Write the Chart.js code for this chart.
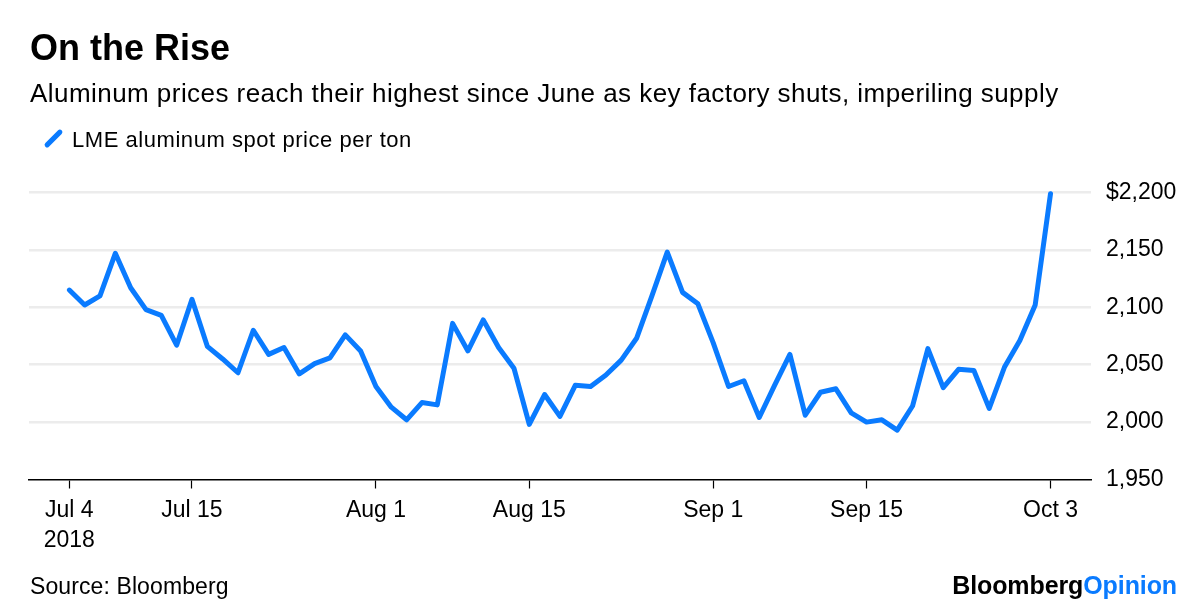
<!DOCTYPE html>
<html>
<head>
<meta charset="utf-8">
<script src="https://cdn.jsdelivr.net/npm/chart.js@4/dist/chart.umd.min.js"></script>
<style>
  html, body { margin: 0; padding: 0; background: #fff; }
  #wrap { position: relative; width: 1200px; height: 612px; overflow: hidden; font-family: 'Liberation Sans', Arial, sans-serif; color: #000; }
  #chart { position: absolute; left: 0; top: 0; }
  .t { position: absolute; white-space: nowrap; }
  #title { left: 30px; top: 30px; font-size: 36px; line-height: 36px; font-weight: bold; letter-spacing: 0px; }
  #subtitle { left: 30px; top: 80px; font-size: 26px; line-height: 26px; letter-spacing: 0.45px; }
  #legend { left: 72px; top: 129px; font-size: 22px; line-height: 22px; letter-spacing: 0.55px; }
  #legicon { position: absolute; left: 42px; top: 136px; width: 23px; height: 5px; background: #0a7bff; border-radius: 2.5px; transform: rotate(-45deg); }
  #source { left: 30px; top: 575px; font-size: 23px; line-height: 23px; letter-spacing: 0.1px; }
  #brand { right: 23px; top: 573px; font-size: 25px; line-height: 25px; font-weight: bold; letter-spacing: -0.1px; }
  #brand span { color: #0a7bff; }
</style>
</head>
<body>
<div id="wrap">
  <canvas id="chart" width="1200" height="612"></canvas>
  <div class="t" id="title">On the Rise</div>
  <div class="t" id="subtitle">Aluminum prices reach their highest since June as key factory shuts, imperiling supply</div>
  <div id="legicon"></div>
  <div class="t" id="legend">LME aluminum spot price per ton</div>
  <div class="t" id="source">Source: Bloomberg</div>
  <div class="t" id="brand">Bloomberg<span>Opinion</span></div>
</div>
<script>
// Trading days (LME), Jul 4 – Oct 3, 2018
const dates = [
  '2018-07-04','2018-07-05','2018-07-06','2018-07-09','2018-07-10','2018-07-11','2018-07-12','2018-07-13',
  '2018-07-16','2018-07-17','2018-07-18','2018-07-19','2018-07-20','2018-07-23','2018-07-24','2018-07-25',
  '2018-07-26','2018-07-27','2018-07-30','2018-07-31',
  '2018-08-01','2018-08-02','2018-08-03','2018-08-06','2018-08-07','2018-08-08','2018-08-09','2018-08-10',
  '2018-08-13','2018-08-14','2018-08-15','2018-08-16','2018-08-17','2018-08-20','2018-08-21','2018-08-22',
  '2018-08-23','2018-08-24','2018-08-28','2018-08-29','2018-08-30','2018-08-31',
  '2018-09-03','2018-09-04','2018-09-05','2018-09-06','2018-09-07','2018-09-10','2018-09-11','2018-09-12',
  '2018-09-13','2018-09-14','2018-09-17','2018-09-18','2018-09-19','2018-09-20','2018-09-21','2018-09-24',
  '2018-09-25','2018-09-26','2018-09-27','2018-09-28',
  '2018-10-01','2018-10-02','2018-10-03'
];

// LME aluminum spot price per ton (USD)
const prices = [
  2115, 2102, 2110, 2147, 2117, 2098, 2093, 2067,
  2107, 2066, 2055, 2043, 2080, 2059, 2065, 2042,
  2051, 2056, 2076, 2062,
  2031, 2013, 2002, 2017, 2015, 2086, 2062, 2089,
  2065, 2047, 1998, 2024, 2005, 2032, 2031, 2041,
  2054, 2073, 2110, 2148, 2113, 2103,
  2069, 2031, 2036, 2004, 2032, 2059, 2006, 2026,
  2029, 2008, 2000, 2002, 1993, 2014, 2064, 2030,
  2046, 2045, 2012, 2048,
  2071, 2102, 2199
];

// X-axis ticks: the trading day where each label sits, and its text
const tickDates  = ['2018-07-04','2018-07-16','2018-08-01','2018-08-15','2018-09-03','2018-09-17','2018-10-03'];
const tickLabels = [['Jul 4','2018'], 'Jul 15', 'Aug 1', 'Aug 15', 'Sep 1', 'Sep 15', 'Oct 3'];

// Y-axis ticks
const yTicks = [1950, 2000, 2050, 2100, 2150, 2200];

const BLUE = '#0a7bff';
const FONT = "'Liberation Sans', Arial, sans-serif";
const tickIdx = tickDates.map(d => dates.indexOf(d));

new Chart(document.getElementById('chart'), {
  type: 'line',
  data: {
    datasets: [{
      label: 'LME aluminum spot price per ton',
      data: prices.map((v, i) => ({ x: i, y: v })),
      borderColor: BLUE,
      borderWidth: 5,
      borderCapStyle: 'round',
      borderJoinStyle: 'round',
      pointRadius: 0,
      tension: 0,
      fill: false,
      clip: false
    }]
  },
  options: {
    responsive: false,
    animation: false,
    layout: { padding: { left: 29, top: 192.5, right: 0, bottom: 0 } },
    plugins: { legend: { display: false }, tooltip: { enabled: false }, title: { display: false } },
    scales: {
      x: {
        type: 'linear',
        min: -2.63,
        max: 66.64,
        afterFit: s => { s.height = 612 - 479.5; },
        afterBuildTicks: s => { s.ticks = tickIdx.map(v => ({ value: v })); },
        border: { display: true, color: '#000', width: 1.5 },
        grid: { drawOnChartArea: false, drawTicks: true, tickLength: 9, tickColor: '#000', tickWidth: 1.2 },
        ticks: {
          autoSkip: false, maxRotation: 0, minRotation: 0, padding: 8,
          color: '#000',
          font: { family: FONT, size: 23, lineHeight: 1.27 },
          callback: (v, i) => tickLabels[i]
        }
      },
      y: {
        position: 'right',
        min: 1950,
        max: 2200,
        afterFit: s => { s.width = 1200 - 1091; },
        afterBuildTicks: s => { s.ticks = yTicks.map(v => ({ value: v })); },
        border: { display: false },
        grid: {
          drawTicks: false,
          lineWidth: 2.5,
          color: c => (c.tick && c.tick.value === 1950) ? 'rgba(0,0,0,0)' : '#ececec'
        },
        ticks: {
          padding: 15,
          color: '#000',
          font: { family: FONT, size: 23 },
          callback: v => v === 2200 ? '$2,200' : v.toLocaleString('en-US')
        }
      }
    }
  }
});
</script>
</body>
</html>
